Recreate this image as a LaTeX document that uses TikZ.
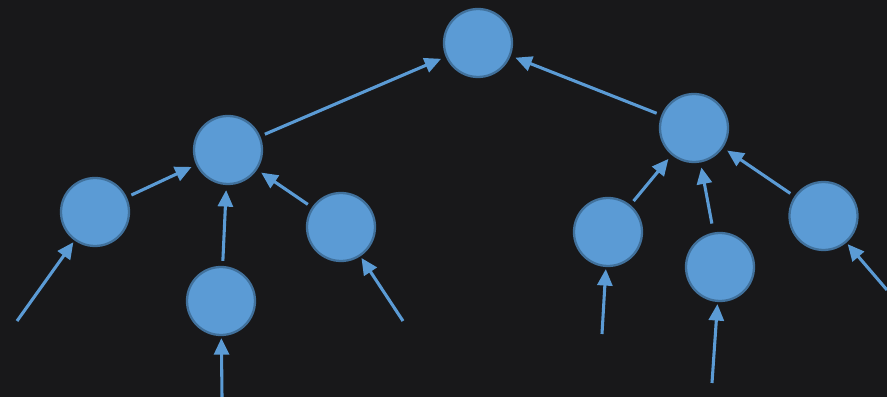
\documentclass[tikz,border=0pt]{standalone}
\usetikzlibrary{arrows.meta}
\definecolor{board}{RGB}{24,24,26}
\definecolor{ballfill}{RGB}{91,155,213}
\definecolor{ballline}{RGB}{65,113,156}
\begin{document}
\begin{tikzpicture}[
		ball/.style={circle,fill=ballfill,draw=ballline,line width=1.3pt,minimum size=1.36cm,inner sep=0pt},
		link/.style={draw=ballfill,line width=1.75pt,-{Triangle[length=0.33cm,width=0.3cm]},shorten <=0.1cm,shorten >=0.1cm},
		feed/.style={link,shorten <=0pt,shorten >=0.04cm}]
		\fill[board] (0,0) rectangle (17.74,7.94);
		\useasboundingbox (0,0) rectangle (17.74,7.94);
		\node[ball] (root) at (9.56,7.08) {};
		\node[ball] (lmid) at (4.56,4.94) {};
		\node[ball] (lleft) at (1.90,3.70) {};
		\node[ball] (ldown) at (4.42,1.92) {};
		\node[ball] (lright) at (6.82,3.40) {};
		\node[ball] (rmid) at (13.88,5.38) {};
		\node[ball] (rleft) at (12.16,3.30) {};
		\node[ball] (rdown) at (14.40,2.60) {};
		\node[ball] (rright) at (16.47,3.62) {};
		\coordinate (inA) at (0.34,1.52);
		\coordinate (inB) at (4.44,0);
		\coordinate (inC) at (8.06,1.52);
		\coordinate (inD) at (12.04,1.26);
		\coordinate (inE) at (14.24,0.28);
		\coordinate (inF) at (17.74,2.14);
		\draw[link] (lmid) -- (root);
		\draw[link] (rmid) -- (root);
		\draw[link] (lleft) -- (lmid);
		\draw[link] (ldown) -- (lmid);
		\draw[link] (lright) -- (lmid);
		\draw[link] (rleft) -- (rmid);
		\draw[link,shorten <=0.18cm] (rdown) -- (rmid);
		\draw[link] (rright) -- (rmid);
		\draw[feed] (inA) -- (lleft);
		\draw[feed] (inB) -- (ldown);
		\draw[feed] (inC) -- (lright);
		\draw[feed] (inD) -- (rleft);
		\draw[feed] (inE) -- (rdown);
		\draw[feed] (inF) -- (rright);
		\end{tikzpicture}
\end{document}
